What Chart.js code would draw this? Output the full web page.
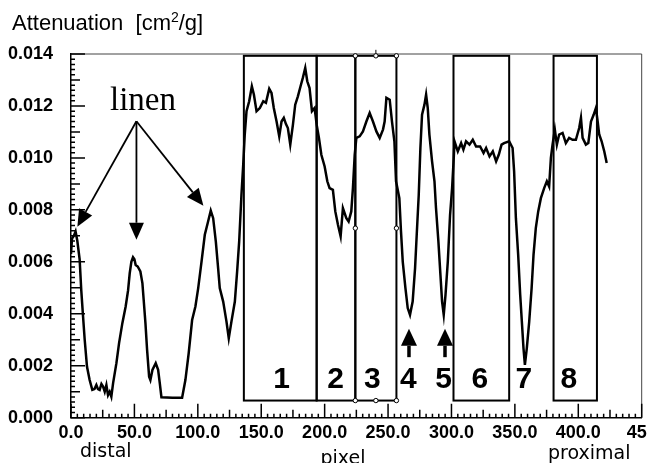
<!DOCTYPE html>
<html lang="en">
<head>
<meta charset="UTF-8">
<title>Attenuation profile</title>
<style>
  body { margin: 0; background: #fff; }
  #wrap { width: 647px; height: 463px; }
</style>
</head>
<body>
<div id="wrap"><canvas id="chart"></canvas></div>
<script src="https://cdn.jsdelivr.net/npm/chart.js"></script>
<script>
// profile along the scan line (pixel, attenuation in cm2/g)
const pixelX = [
  0, 0.8, 2.2, 3.6, 5.0, 6.8, 8.1, 9.5, 10.8, 12.6, 14.7, 16.8, 18.5, 20, 21.3, 22.6, 24, 25.3, 26.6, 27.9,
  29.2, 30.5, 31.8, 33.2, 35.8, 37.9, 40.5, 43.1, 45, 46.3, 47.6, 48.9, 50, 51, 52.6, 54.7, 56.3, 57.3, 58.7, 60,
  61.6, 62.6, 64.2, 66.8, 68.7, 70, 71.3, 80, 87.6, 90.2, 92.8, 95.5, 98.1, 100.3, 102.9, 105.5, 108.1, 110.2, 112.1, 114.2,
  116, 117.3, 120, 122.6, 124.4, 126.5, 129.2, 131, 132.6, 134.4, 135.8, 137, 138.4, 140.5, 142.6, 144.2, 146.3, 148.9, 151.6, 153.7,
  156.3, 158.1, 159.9, 162.1, 164.2, 166, 167.8, 169.5, 171, 172.9, 175, 176.8, 178.9, 181, 182.8, 184.7, 186.3, 188.1, 190, 192.1,
  193.7, 195.5, 197.4, 200, 202.1, 203.9, 206.5, 208.4, 210.5, 212.6, 214.4, 217.1, 218.9, 221, 222.3, 223.7, 225, 227.6, 230.2, 232.9,
  235.5, 238.1, 240.8, 243.4, 246, 247.3, 248.7, 251.3, 253.1, 255, 256.3, 258.9, 260.2, 261.6, 263.7, 265.5, 267.3, 269.4, 271.3, 272.6,
  274.2, 275.5, 276.8, 278.7, 280, 281.3, 282.6, 284.7, 286.6, 287.8, 289.7, 291.3, 292.6, 293.9, 295.3, 297.1, 298.9, 300.5, 301.8, 302.4,
  305, 307.6, 309.4, 311.5, 314.2, 316.8, 319.4, 322.6, 325.3, 327.3, 330, 332.6, 335.2, 337.3, 339.5, 341.5, 345.5, 348.2, 349.4, 350.8,
  352.6, 354.2, 355.5, 356.8, 357.9, 359.4, 361.3, 363.2, 364.7, 366.5, 368.4, 370.5, 373.1, 375.2, 377, 378.4, 379.7, 381.5, 383.1, 384.9,
  387.6, 390.2, 392.8, 395.5, 398.1, 400.7, 402.1, 403.4, 406, 407.9, 410, 412.1, 413.9, 415.3, 416.5, 418.4, 420.5, 422.4
];
const attenuation = [
  0.0063, 0.0069, 0.0070, 0.00717, 0.0068, 0.0061, 0.0049, 0.0039, 0.0030, 0.00197, 0.00145, 0.00107, 0.0011, 0.00126, 0.0011, 0.00107, 0.0013, 0.0012, 0.0010, 0.00126,
  0.00087, 0.0010, 0.00081, 0.00133, 0.0021, 0.00287, 0.00364, 0.00428, 0.0049, 0.00556, 0.0060, 0.00618, 0.0061, 0.00588, 0.00582, 0.00563, 0.00518, 0.00454, 0.00364, 0.00261,
  0.00158, 0.00145, 0.00184, 0.0021, 0.00184, 0.00133, 0.00079, 0.00077, 0.00077, 0.00145, 0.00248, 0.00376, 0.00428, 0.00499, 0.0060, 0.00704, 0.00755, 0.00797, 0.00768, 0.00678,
  0.00576, 0.00499, 0.00447, 0.0037, 0.00306, 0.0037, 0.00447, 0.00563, 0.00678, 0.00858, 0.00974, 0.0109, 0.0118, 0.01218, 0.01276, 0.01244, 0.0118, 0.01192, 0.01218, 0.01212,
  0.01266, 0.0125, 0.01192, 0.0114, 0.01083, 0.0114, 0.01154, 0.0113, 0.01115, 0.01051, 0.01128, 0.01205, 0.01237, 0.01276, 0.01308, 0.01346, 0.01295, 0.01269, 0.0118, 0.01192,
  0.01128, 0.01077, 0.01012, 0.00967, 0.0091, 0.00884, 0.00877, 0.00794, 0.00743, 0.00698, 0.00807, 0.00768, 0.00755, 0.00794, 0.00884, 0.01012, 0.01077, 0.01083, 0.01102, 0.0114,
  0.01173, 0.0114, 0.01102, 0.01077, 0.01109, 0.0114, 0.01231, 0.01224, 0.0114, 0.01064, 0.0091, 0.00845, 0.00717, 0.0060, 0.00499, 0.00422, 0.00396, 0.00447, 0.00576, 0.00704,
  0.00858, 0.01038, 0.01166, 0.01205, 0.01244, 0.01192, 0.0109, 0.00987, 0.0091, 0.00807, 0.00678, 0.0055, 0.00447, 0.00396, 0.00473, 0.0060, 0.00781, 0.00884, 0.0100, 0.01064,
  0.01025, 0.01057, 0.01032, 0.01064, 0.01051, 0.0107, 0.01044, 0.01044, 0.01019, 0.01038, 0.01006, 0.01025, 0.00987, 0.01012, 0.01051, 0.01057, 0.01064, 0.01038, 0.00948, 0.00768,
  0.00627, 0.00473, 0.0037, 0.00267, 0.00203, 0.00267, 0.0037, 0.00499, 0.00627, 0.0073, 0.00794, 0.00845, 0.00884, 0.0091, 0.0089, 0.0100, 0.01051, 0.01109, 0.01051, 0.0109,
  0.01096, 0.01057, 0.01077, 0.0107, 0.0107, 0.01115, 0.01154, 0.01077, 0.01051, 0.01057, 0.0114, 0.01166, 0.01192, 0.0114, 0.0109, 0.01064, 0.01025, 0.0098
];

const xTicks = [0, 50, 100, 150, 200, 250, 300, 350, 400, 450];
const xTickLabels = ['0.0', '50.0', '100.0', '150.0', '200.0', '250.0', '300.0', '350.0', '400.0', '450'];
const yTicks = [0, 0.002, 0.004, 0.006, 0.008, 0.010, 0.012, 0.014];
const yTickLabels = ['0.000', '0.002', '0.004', '0.006', '0.008', '0.010', '0.012', '0.014'];

// measured zones (pixel ranges) and their numbering
const boxLeft = [136.3, 193.7, 224.2, 301.6, 380.5];
const boxRight = [193.7, 224.2, 256.6, 345.5, 414.7];
const boxBottom = 0.00066;
const boxTop = 0.01393;
const zoneLabels = ['1', '2', '3', '4', '5', '6', '7', '8'];
const zoneLabelX = [166, 208.6, 237.6, 265.9, 293.8, 322.3, 357.1, 392.6];
const zoneLabelY = 0.00147;
const dipArrowX = [266.5, 294.9];
const linenFrom = [51.6, 0.01141];
const linenTips = [[5.0, 0.00735], [51.6, 0.00685], [104.4, 0.00816]];

const points = pixelX.map((x, i) => ({ x: x, y: attenuation[i] }));

function arrow(ctx, x1, y1, x2, y2, headLen, headW, lw) {
  const a = Math.atan2(y2 - y1, x2 - x1);
  const bx = x2 - headLen * Math.cos(a), by = y2 - headLen * Math.sin(a);
  ctx.lineWidth = lw;
  ctx.beginPath(); ctx.moveTo(x1, y1); ctx.lineTo(bx, by); ctx.stroke();
  ctx.beginPath();
  ctx.moveTo(x2, y2);
  ctx.lineTo(bx + headW / 2 * Math.sin(a), by - headW / 2 * Math.cos(a));
  ctx.lineTo(bx - headW / 2 * Math.sin(a), by + headW / 2 * Math.cos(a));
  ctx.closePath(); ctx.fill();
}

const decorations = {
  id: 'decorations',
  afterDraw(chart) {
    const ctx = chart.ctx;
    const xs = chart.scales.x, ys = chart.scales.y;
    const a = chart.chartArea;
    const px = v => xs.getPixelForValue(v);
    const py = v => ys.getPixelForValue(v);
    ctx.save();
    ctx.fillStyle = '#000';
    ctx.strokeStyle = '#000';

    // frame top / right
    ctx.lineWidth = 1;
    ctx.strokeStyle = '#444';
    ctx.beginPath();
    ctx.moveTo(a.left, a.top); ctx.lineTo(a.right, a.top); ctx.lineTo(a.right, a.bottom);
    ctx.stroke();
    ctx.strokeStyle = '#000';

    // inward ticks
    ctx.lineWidth = 1.5;
    ctx.beginPath();
    for (let k = 0; k <= 90; k++) {
      const v = k * 5;
      const len = k % 10 === 0 ? 14 : (k % 5 === 0 ? 8 : 4);
      const x = px(v);
      ctx.moveTo(x, a.bottom); ctx.lineTo(x, a.bottom - len);
    }
    for (let k = 0; k <= 70; k++) {
      const v = k * 0.0002;
      const len = k % 10 === 0 ? 14 : (k % 5 === 0 ? 9 : 4);
      const y = py(v);
      ctx.moveTo(a.left, y); ctx.lineTo(a.left + len, y);
    }
    ctx.stroke();

    // zone boxes
    ctx.lineWidth = 2;
    boxLeft.forEach((l, i) => {
      ctx.strokeRect(px(l), py(boxTop), px(boxRight[i]) - px(l), py(boxBottom) - py(boxTop));
    });

    // selection handles on box 3
    const hx = [boxLeft[2], (boxLeft[2] + boxRight[2]) / 2, boxRight[2]];
    const midY = (boxTop + boxBottom) / 2;
    ctx.lineWidth = 1;
    ctx.beginPath();
    ctx.moveTo(px(hx[1]), py(boxTop)); ctx.lineTo(px(hx[1]), py(boxTop) - 6);
    ctx.stroke();
    [[hx[0], boxTop], [hx[1], boxTop], [hx[2], boxTop], [hx[0], midY], [hx[2], midY],
     [hx[0], boxBottom], [hx[1], boxBottom], [hx[2], boxBottom]].forEach(p => {
      ctx.beginPath();
      ctx.arc(px(p[0]), py(p[1]), 2.2, 0, Math.PI * 2);
      ctx.fillStyle = '#fff'; ctx.fill();
      ctx.stroke();
    });
    ctx.fillStyle = '#000';

    // zone numbers
    ctx.font = 'bold 30px "Liberation Sans", Arial, sans-serif';
    ctx.textAlign = 'center';
    ctx.textBaseline = 'middle';
    zoneLabels.forEach((t, i) => ctx.fillText(t, px(zoneLabelX[i]), py(zoneLabelY)));

    // dip arrows under 4 and 5
    dipArrowX.forEach(v => arrow(ctx, px(v), py(0.00233), px(v), py(0.00342), 17, 16, 3.5));

    // linen label and arrows
    ctx.font = '33px "Liberation Serif", "Times New Roman", serif';
    ctx.textAlign = 'left';
    ctx.textBaseline = 'alphabetic';
    ctx.fillText('linen', 110, 110);
    linenTips.forEach(t => arrow(ctx, px(linenFrom[0]), py(linenFrom[1]), px(t[0]), py(t[1]), 17, 15, 1.8));

    // titles
    ctx.font = '22px "Liberation Sans", Arial, sans-serif';
    let x0 = 12;
    ctx.fillText('Attenuation  [cm', x0, 30);
    x0 += ctx.measureText('Attenuation  [cm').width;
    ctx.font = '14px "Liberation Sans", Arial, sans-serif';
    ctx.fillText('2', x0, 22);
    x0 += ctx.measureText('2').width;
    ctx.font = '22px "Liberation Sans", Arial, sans-serif';
    ctx.fillText('/g]', x0, 30);

    ctx.font = '19px "DejaVu Sans", Verdana, sans-serif';
    ctx.fillText('distal', 80, 457);
    ctx.fillText('proximal', 548, 459);
    ctx.textAlign = 'center';
    ctx.fillText('pixel', 343, 464);
    ctx.restore();
  }
};

new Chart(document.getElementById('chart'), {
  type: 'line',
  data: {
    datasets: [{
      data: points,
      borderColor: '#000',
      borderWidth: 2.5,
      pointRadius: 0,
      tension: 0,
      fill: false
    }]
  },
  options: {
    responsive: true,
    maintainAspectRatio: false,
    animation: false,
    layout: { padding: { top: 54, right: 5.3, left: 0, bottom: 0 } },
    plugins: { legend: { display: false }, tooltip: { enabled: false } },
    scales: {
      x: {
        type: 'linear',
        min: 0,
        max: 450,
        afterBuildTicks: s => { s.ticks = xTicks.map(v => ({ value: v })); },
        afterFit: s => { s.height = 45.3; s.paddingLeft = 0; s.paddingRight = 0; },
        ticks: {
          autoSkip: false,
          maxRotation: 0,
          padding: 5,
          color: '#000',
          font: { family: '"Liberation Sans", Arial, sans-serif', size: 18, weight: 'bold' },
          callback: (v, i) => xTickLabels[i]
        },
        grid: { drawOnChartArea: false, drawTicks: false },
        border: { color: '#000', width: 1.5 }
      },
      y: {
        min: 0,
        max: 0.014,
        afterBuildTicks: s => { s.ticks = yTicks.map(v => ({ value: v })); },
        afterFit: s => { s.width = 71; s.paddingTop = 0; s.paddingBottom = 0; },
        ticks: {
          autoSkip: false,
          padding: 18,
          color: '#000',
          font: { family: '"Liberation Sans", Arial, sans-serif', size: 18, weight: 'bold' },
          callback: (v, i) => yTickLabels[i]
        },
        grid: { drawOnChartArea: false, drawTicks: false },
        border: { color: '#000', width: 1.5 }
      }
    }
  },
  plugins: [decorations]
});
</script>
</body>
</html>
